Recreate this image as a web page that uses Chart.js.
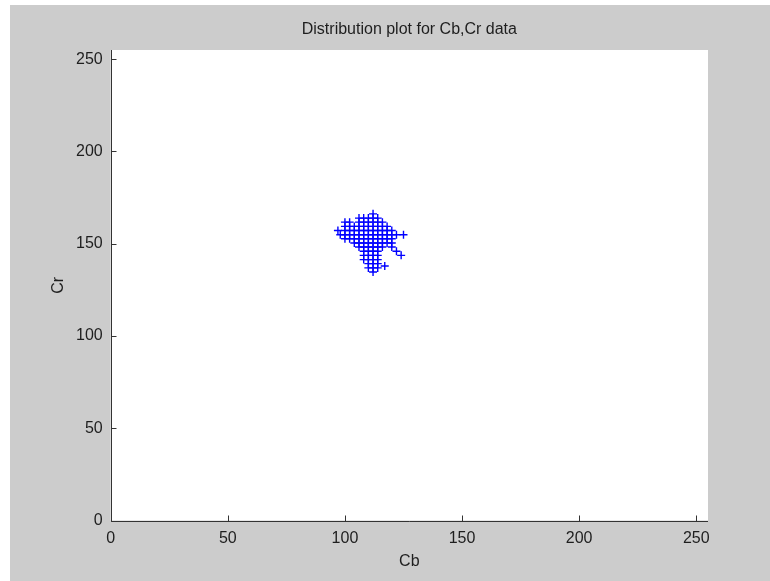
<!DOCTYPE html>
<html>
<head>
<meta charset="utf-8">
<script src="https://cdn.jsdelivr.net/npm/chart.js@4"></script>
<style>
  body { margin: 0; background: #fff; }
  canvas { display: block; }
</style>
</head>
<body>
<canvas id="chart" width="770" height="581"></canvas>
<script>
const cbTicks = [0, 50, 100, 150, 200, 250];
const crTicks = [0, 50, 100, 150, 200, 250];

// Cr level of each row of markers, and the Cb values seen on that row
const crRows = [166.2, 163.9, 161.7, 159.4, 157.2, 154.9, 152.7, 150.4, 148.2, 145.9, 143.7, 141.4, 139.2, 137.9, 136.9, 134.7];
const cbRows = [
  [112],
  [106, 108, 110, 112, 114],
  [100, 102, 106, 108, 110, 112, 114, 116],
  [100, 102, 104, 106, 108, 110, 112, 114, 116, 118],
  [97, 100, 102, 104, 106, 108, 110, 112, 114, 116, 118, 120],
  [98, 100, 102, 104, 106, 108, 110, 112, 114, 116, 118, 120, 122, 125],
  [100, 102, 104, 106, 108, 110, 112, 114, 116, 118, 120],
  [104, 106, 108, 110, 112, 114, 116, 118, 120],
  [106, 108, 110, 112, 114, 116, 120],
  [108, 110, 112, 114, 122],
  [108, 110, 112, 114, 124],
  [108, 110, 112, 114],
  [110, 112, 114],
  [117],
  [110, 112, 114],
  [112]
];

const points = [];
crRows.forEach((cr, i) => {
  cbRows[i].forEach(cb => points.push({ x: cb, y: cr }));
});

const font = { family: "'Liberation Sans', Arial, sans-serif", size: 16 };
const textColor = "#1e1e1e";

const matlabLook = {
  id: "matlabLook",
  beforeDraw(chart) {
    const ctx = chart.ctx;
    const a = chart.chartArea;
    ctx.save();
    ctx.fillStyle = "#fff";
    ctx.fillRect(0, 0, chart.width, chart.height);
    ctx.fillStyle = "#cccccc";
    ctx.fillRect(10, 5, chart.width - 10, chart.height - 5);
    ctx.fillStyle = "#fff";
    ctx.fillRect(a.left, a.top, a.right - a.left, a.bottom - a.top);
    ctx.restore();
  },
  afterDraw(chart) {
    const ctx = chart.ctx;
    const a = chart.chartArea;
    const xs = chart.scales.x, ys = chart.scales.y;
    const L = Math.round(a.left) + 0.5, B = Math.round(a.bottom) + 0.5;
    ctx.save();
    ctx.strokeStyle = "#333";
    ctx.lineWidth = 1;
    ctx.beginPath();
    ctx.moveTo(L, Math.round(a.top));
    ctx.lineTo(L, B);
    ctx.lineTo(Math.round(a.right), B);
    cbTicks.forEach(v => {
      const px = Math.round(xs.getPixelForValue(v)) + 0.5;
      ctx.moveTo(px, B);
      ctx.lineTo(px, B - 6);
    });
    crTicks.forEach(v => {
      const py = Math.round(ys.getPixelForValue(v)) + 0.5;
      ctx.moveTo(L, py);
      ctx.lineTo(L + 5, py);
    });
    ctx.stroke();

    ctx.fillStyle = textColor;
    ctx.font = "16px " + font.family;
    ctx.textAlign = "center";
    ctx.textBaseline = "middle";
    ctx.fillText("Distribution plot for Cb,Cr data", (a.left + a.right) / 2, 30);
    ctx.fillText("Cb", (a.left + a.right) / 2, 562);
    ctx.translate(59, (a.top + a.bottom) / 2);
    ctx.rotate(-Math.PI / 2);
    ctx.fillText("Cr", 0, 0);
    ctx.restore();
  }
};

new Chart(document.getElementById("chart"), {
  type: "scatter",
  data: {
    datasets: [{
      data: points,
      pointStyle: "cross",
      pointRadius: 4,
      pointBorderWidth: 1.4,
      borderColor: "#0000ff",
      backgroundColor: "#0000ff",
      showLine: false
    }]
  },
  options: {
    responsive: false,
    animation: false,
    layout: { padding: { top: 50, right: 62, left: 0, bottom: 0 } },
    plugins: { legend: { display: false }, tooltip: { enabled: false } },
    scales: {
      x: {
        min: 0, max: 255,
        grid: { display: false, drawTicks: false },
        border: { display: false },
        afterBuildTicks: s => { s.ticks = cbTicks.map(v => ({ value: v })); },
        afterFit: s => { s.height = 60.5; },
        ticks: { font, color: textColor, padding: 8, maxRotation: 0 }
      },
      y: {
        min: 0, max: 255,
        grid: { display: false, drawTicks: false },
        border: { display: false },
        afterBuildTicks: s => { s.ticks = crTicks.map(v => ({ value: v })); },
        afterFit: s => { s.width = 110.7; },
        ticks: { font, color: textColor, padding: 8 }
      }
    }
  },
  plugins: [matlabLook]
});
</script>
</body>
</html>
